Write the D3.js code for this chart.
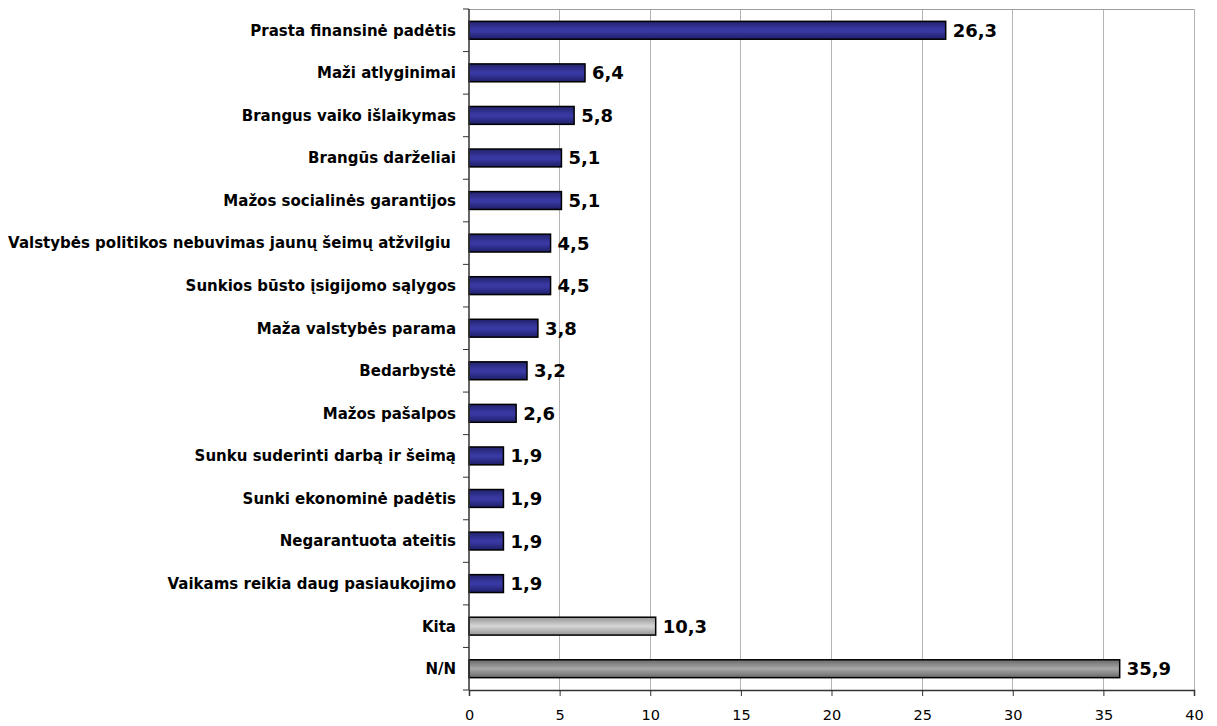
<!DOCTYPE html>
<html><head><meta charset="utf-8">
<script src="https://cdn.jsdelivr.net/npm/d3@7"></script>
<style>body{margin:0;background:#fff}svg{display:block}</style>
</head><body><svg id="c" width="1217" height="726"></svg>
<script>
const categories = ["Prasta finansinė padėtis","Maži atlyginimai","Brangus vaiko išlaikymas","Brangūs darželiai","Mažos socialinės garantijos","Valstybės politikos nebuvimas jaunų šeimų atžvilgiu ","Sunkios būsto įsigijomo sąlygos","Maža valstybės parama","Bedarbystė","Mažos pašalpos","Sunku suderinti darbą ir šeimą","Sunki ekonominė padėtis","Negarantuota ateitis","Vaikams reikia daug pasiaukojimo","Kita","N/N"];
const values = [26.3,6.4,5.8,5.1,5.1,4.5,4.5,3.8,3.2,2.6,1.9,1.9,1.9,1.9,10.3,35.9];
const groups = ["blue","blue","blue","blue","blue","blue","blue","blue","blue","blue","blue","blue","blue","blue","light","dark"];
const ticks = [0,5,10,15,20,25,30,35,40];

const svg = d3.select("#c");
const m = {l:469, r:1194, t:9, b:690};
const x = d3.scaleLinear().domain([0,40]).range([m.l, m.r]);
const y = d3.scaleBand().domain(categories).range([m.t, m.b]).paddingInner(0.58).paddingOuter(0.29);
const yb = d3.scaleBand().domain(categories).range([m.t, m.b]);

const defs = svg.append("defs");
function grad(id, stops){
  const g = defs.append("linearGradient").attr("id",id).attr("x1",0).attr("y1",0).attr("x2",0).attr("y2",1);
  stops.forEach(s=>g.append("stop").attr("offset",s[0]).attr("stop-color",s[1]));
}
grad("blue",[[0,"#22226a"],[0.45,"#3939a4"],[0.55,"#3939a4"],[1,"#1e1e66"]]);
grad("light",[[0,"#959595"],[0.5,"#d6d6d6"],[1,"#959595"]]);
grad("dark",[[0,"#686868"],[0.5,"#a8a8a8"],[1,"#686868"]]);

// grid
svg.append("g").selectAll("line").data(ticks.slice(1)).join("line")
  .attr("x1",d=>x(d)).attr("x2",d=>x(d)).attr("y1",m.t).attr("y2",m.b)
  .attr("stroke","#b4b4b4").attr("stroke-width",1).attr("shape-rendering","crispEdges");
svg.append("line").attr("x1",m.l).attr("x2",m.r).attr("y1",m.t).attr("y2",m.t)
  .attr("stroke","#a0a0a0").attr("shape-rendering","crispEdges");

// bars
svg.append("g").selectAll("rect").data(categories).join("rect")
  .attr("x",x(0)).attr("y",d=>y(d)).attr("height",y.bandwidth())
  .attr("width",(d,i)=>x(values[i])-x(0))
  .attr("fill",(d,i)=>`url(#${groups[i]})`).attr("stroke","#000").attr("stroke-width",1.5);

// value labels
svg.append("g").selectAll("text").data(categories).join("text")
  .attr("x",(d,i)=>x(values[i])+7).attr("y",d=>y(d)+y.bandwidth()/2).attr("dy","0.36em")
  .attr("font-family","DejaVu Sans").attr("font-weight","bold").attr("font-size",18)
  .text((d,i)=>String(values[i]).replace(".",","));

// y axis
const ya = svg.append("g");
ya.append("line").attr("x1",m.l).attr("x2",m.l).attr("y1",m.t).attr("y2",m.b).attr("stroke","#333").attr("stroke-width",1.5);
ya.selectAll("line.t").data(d3.range(categories.length+1)).join("line").attr("class","t")
  .attr("x1",m.l-6).attr("x2",m.l).attr("y1",i=>m.t+i*yb.step()).attr("y2",i=>m.t+i*yb.step())
  .attr("stroke","#333").attr("stroke-width",1);
ya.selectAll("text").data(categories).join("text")
  .attr("x",456).attr("y",d=>yb(d)+yb.bandwidth()/2).attr("dy","0.36em")
  .attr("text-anchor","end").attr("font-family","DejaVu Sans").attr("font-weight","bold").attr("font-size",15)
  .style("white-space","pre")
  .text(d=>d);

// x axis
const xa = svg.append("g").attr("transform",`translate(0,${m.b})`)
  .call(d3.axisBottom(x).tickValues(ticks).tickSize(6).tickPadding(14).tickFormat(d3.format("d")));
xa.select(".domain").attr("stroke","#333").attr("stroke-width",1.5);
xa.selectAll(".tick line").attr("stroke","#333");
xa.selectAll("text").attr("font-family","DejaVu Sans").attr("font-size",14.5).attr("fill","#000");
</script></body></html>
